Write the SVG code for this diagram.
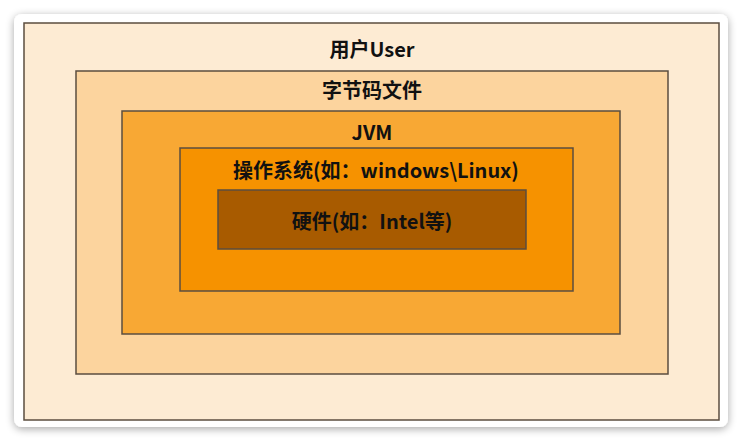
<svg xmlns="http://www.w3.org/2000/svg" width="743" height="443" viewBox="0 0 743 443">
<defs>
<filter id="sh" x="-5%" y="-5%" width="110%" height="110%">
<feGaussianBlur in="SourceAlpha" stdDeviation="4"/>
<feOffset dx="0" dy="2"/>
<feComponentTransfer><feFuncA type="linear" slope="0.35"/></feComponentTransfer>
<feMerge><feMergeNode/><feMergeNode in="SourceGraphic"/></feMerge>
</filter>
<style>
.box{stroke:#5b4d3f;stroke-width:1.5}
.t{font-family:"Noto Sans CJK SC","Noto Sans",sans-serif;font-weight:bold;font-size:20px;fill:#111;text-anchor:middle;dominant-baseline:central}
</style>
</defs>
<rect width="743" height="443" fill="#ffffff"/>
<rect x="14" y="14" width="714" height="413" rx="8" fill="#ffffff" filter="url(#sh)"/>
<g id="user"><rect class="box" x="24" y="23" width="695" height="397" fill="#fdebd3"/><text class="t" x="372" y="48">用户User</text></g>
<g id="bytecode"><rect class="box" x="76" y="71" width="592" height="303" fill="#fcd49e"/><text class="t" x="372" y="89">字节码文件</text></g>
<g id="jvm"><rect class="box" x="122" y="111" width="498" height="223" fill="#f8a834"/><text class="t" x="372" y="131">JVM</text></g>
<g id="os"><rect class="box" x="180" y="148" width="393" height="143" fill="#f69200"/><text class="t" x="376" y="169">操作系统(如：windows\Linux)</text></g>
<g id="hw"><rect class="box" x="218" y="190" width="308" height="59" fill="#a85b00"/><text class="t" x="372" y="220">硬件(如：Intel等)</text></g>
<g id="connectors"/>
</svg>
